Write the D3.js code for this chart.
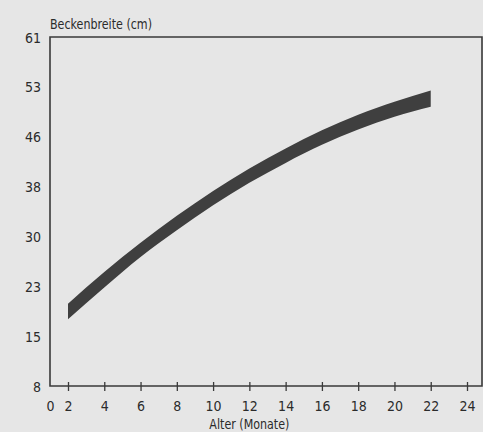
<!DOCTYPE html>
<html>
<head>
<meta charset="utf-8">
<script src="https://cdn.jsdelivr.net/npm/d3@7"></script>
<style>
  html, body { margin: 0; padding: 0; background: #e6e6e6; }
  svg { display: block; }
  text { font-family: "Liberation Sans Narrow", "DejaVu Sans Condensed", "Liberation Sans", sans-serif; fill: #2b2b2b; }
</style>
</head>
<body>
<script>
// ---- data ----
const months = [2, 4, 6, 8, 10, 12, 14, 16, 18, 20, 22];
const upperCm = [20.2, 25.0, 29.1, 33.3, 37.3, 40.9, 44.1, 46.9, 49.1, 50.9, 52.5];
const lowerCm = [17.7, 22.8, 27.1, 31.0, 35.0, 38.6, 41.8, 44.7, 47.0, 48.8, 50.2];
const xTickValues = [0, 2, 4, 6, 8, 10, 12, 14, 16, 18, 20, 22, 24];
const yTickLabels = [8, 15, 23, 30, 38, 46, 53, 61];
const yTitle = "Beckenbreite (cm)";
const xTitle = "Alter (Monate)";

const W = 483, H = 432;
const mLeft = 50, mRight = 482, mTop = 37, mBottom = 386;

const svg = d3.select("body").append("svg").attr("width", W).attr("height", H);

// x: origin labelled 0, then regular spacing from 2 to 24 (broken axis)
const x = d3.scaleLinear().domain([0, 2, 24]).range([mLeft, 68, 467]);
// y: evenly spaced tick labels
const y = d3.scaleLinear()
  .domain(yTickLabels)
  .range(yTickLabels.map((d, i) => mBottom - i * (mBottom - mTop) / (yTickLabels.length - 1)));

const data = months.map((m, i) => ({ m, hi: upperCm[i], lo: lowerCm[i] }));

// band
const area = d3.area()
  .x(d => x(d.m))
  .y0(d => y(d.lo))
  .y1(d => y(d.hi))
  .curve(d3.curveMonotoneX);
svg.append("path").datum(data).attr("d", area).attr("fill", "#3f3f3f");

// frame
svg.append("path")
  .attr("d", `M${mLeft},${mTop}L${mRight},${mTop}L${mRight},${mBottom}L${mLeft},${mBottom}Z`)
  .attr("stroke", "#3a3a3a").attr("stroke-width", 1.6).attr("fill", "none");

// x axis ticks + labels
const xAxis = d3.axisBottom(x).tickValues(xTickValues).tickSize(0).tickPadding(0).tickFormat(d3.format("d"));
const gx = svg.append("g").attr("transform", `translate(0,${mBottom})`).call(xAxis);
gx.select(".domain").remove();
gx.selectAll(".tick").filter(d => d !== 0).append("line")
  .attr("y1", -4).attr("y2", 5).attr("stroke", "#3a3a3a").attr("stroke-width", 1.3);
gx.selectAll(".tick text")
  .attr("y", 0).attr("dy", null)
  .attr("transform", "translate(0,25)")
  .style("font-size", "14px").style("fill", "#2b2b2b");

// y axis labels (no tick marks)
const yAxis = d3.axisLeft(y).tickValues(yTickLabels).tickSize(0).tickPadding(9).tickFormat(d3.format("d"));
const gy = svg.append("g").attr("transform", `translate(${mLeft},0)`).call(yAxis);
gy.select(".domain").remove();
gy.selectAll(".tick text").attr("dy", "0.36em").style("font-size", "14px").style("fill", "#2b2b2b");
svg.selectAll("g").attr("font-family", null).attr("font-size", null);

// titles
svg.append("text").attr("x", mLeft).attr("y", 29).style("font-size", "14.5px")
  .attr("textLength", 102).attr("lengthAdjust", "spacingAndGlyphs").text(yTitle);
svg.append("text").attr("x", x(12) - 40).attr("y", 429).style("font-size", "14.5px")
  .attr("textLength", 80).attr("lengthAdjust", "spacingAndGlyphs").text(xTitle);
</script>
</body>
</html>
